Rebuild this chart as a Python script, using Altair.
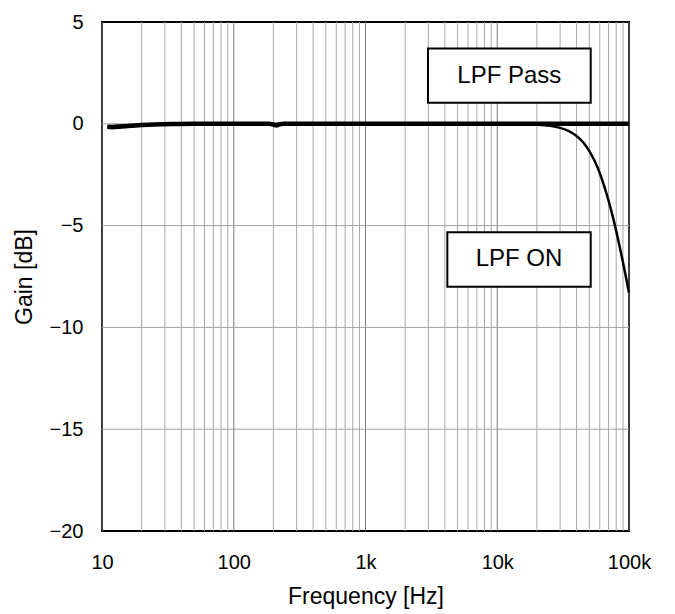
import altair as alt
import pandas as pd

# ---- data ----
pass_freq = [11, 12, 14, 17, 20, 25, 30, 50, 100, 185, 200, 210, 222, 240, 300, 1000, 10000, 100000]
pass_gain = [-0.15, -0.17, -0.13, -0.09, -0.06, -0.03, -0.02, 0.0, 0.0, 0.0, -0.04, -0.08, -0.03, 0.0, 0.0, 0.0, 0.0, 0.0]

on_freq = [11, 20, 100, 1000, 10000, 15000, 20000, 25000, 30000, 35000, 40000, 45000, 50000, 55000,
           60000, 65000, 70000, 75000, 80000, 85000, 90000, 95000, 100000]
on_gain = [-0.12, -0.05, 0.0, 0.0, 0.0, -0.01, -0.04, -0.10, -0.20, -0.36, -0.60, -0.92, -1.34, -1.84,
           -2.42, -3.08, -3.78, -4.51, -5.27, -6.04, -6.80, -7.56, -8.3]

major_freq = [10, 100, 1000, 10000, 100000]
minor_freq = [m * d for d in [10, 100, 1000, 10000] for m in range(2, 10)]
y_grid = [-15, -10, -5, 0]
y_ticks = [-20, -15, -10, -5, 0, 5]
x_ticks = [10, 100, 1000, 10000, 100000]

box_labels = ["LPF Pass", "LPF ON"]
box_x1 = [2980, 4180]
box_x2 = [51200, 51200]
box_y1 = [3.70, -5.33]
box_y2 = [1.04, -8.0]

FONT = "Liberation Sans"

xs = alt.Scale(type="log", domain=[10, 100000], nice=False)
ys = alt.Scale(domain=[-20, 5], nice=False, zero=False)

df_pass = pd.DataFrame({"f": pass_freq, "g": pass_gain})
df_on = pd.DataFrame({"f": on_freq, "g": on_gain})
df_minor = pd.DataFrame({"f": minor_freq})
df_major = pd.DataFrame({"f": major_freq})
df_ygrid = pd.DataFrame({"g": y_grid})
df_box = pd.DataFrame({"label": box_labels, "x1": box_x1, "x2": box_x2, "y1": box_y1, "y2": box_y2})
df_box["xc"] = [(a * b) ** 0.5 for a, b in zip(box_x1, box_x2)]
df_box["yc"] = [(a + b) / 2 for a, b in zip(box_y1, box_y2)]

minor = alt.Chart(df_minor).mark_rule(color="#a8a8a8", strokeWidth=1).encode(
    x=alt.X("f:Q", scale=xs)
)
major = alt.Chart(df_major).mark_rule(color="#7a7a7a", strokeWidth=1).encode(
    x=alt.X("f:Q", scale=xs)
)
hgrid = alt.Chart(df_ygrid).mark_rule(color="#a0a0a0", strokeWidth=1).encode(
    y=alt.Y("g:Q", scale=ys)
)

line_pass = alt.Chart(df_pass).mark_line(color="black", strokeWidth=4.5, interpolate="monotone").encode(
    x=alt.X("f:Q", scale=xs,
            axis=alt.Axis(values=x_ticks, title="Frequency [Hz]", grid=False, ticks=False, domain=False,
                          labelExpr="datum.value >= 1000 ? (datum.value/1000) + 'k' : datum.value",
                          labelPadding=21, titlePadding=13, labelFontSize=20, titleFontSize=23,
                          labelFont=FONT, titleFont=FONT, labelColor="black", titleColor="black",
                          titleFontWeight="normal", labelFlush=False)),
    y=alt.Y("g:Q", scale=ys,
            axis=alt.Axis(values=y_ticks, title="Gain [dB]", grid=False, ticks=False, domain=False,
                          labelPadding=19, titlePadding=13, labelFontSize=20, titleFontSize=23,
                          labelFont=FONT, titleFont=FONT, labelColor="black", titleColor="black",
                          titleFontWeight="normal", labelFlush=False)),
)
line_on = alt.Chart(df_on).mark_line(color="black", strokeWidth=2.5, interpolate="monotone").encode(
    x=alt.X("f:Q", scale=xs),
    y=alt.Y("g:Q", scale=ys),
)

boxes = alt.Chart(df_box).mark_rect(fill="white", stroke="black", strokeWidth=2).encode(
    x=alt.X("x1:Q", scale=xs), x2="x2:Q",
    y=alt.Y("y1:Q", scale=ys), y2="y2:Q",
)
box_text = alt.Chart(df_box).mark_text(font=FONT, fontSize=24, color="black", align="center", baseline="middle").encode(
    x=alt.X("xc:Q", scale=xs),
    y=alt.Y("yc:Q", scale=ys),
    text="label:N",
)

chart = alt.layer(minor, major, hgrid, line_on, line_pass, boxes, box_text).properties(
    width=527, height=509,
    autosize=alt.AutoSizeParams(type="none"),
    padding={"left": 102, "top": 22, "right": 46, "bottom": 83},
    background="white",
).configure_view(stroke="black", strokeWidth=2)

chart.save("out.html", embed_options={"renderer": "svg", "actions": False})
